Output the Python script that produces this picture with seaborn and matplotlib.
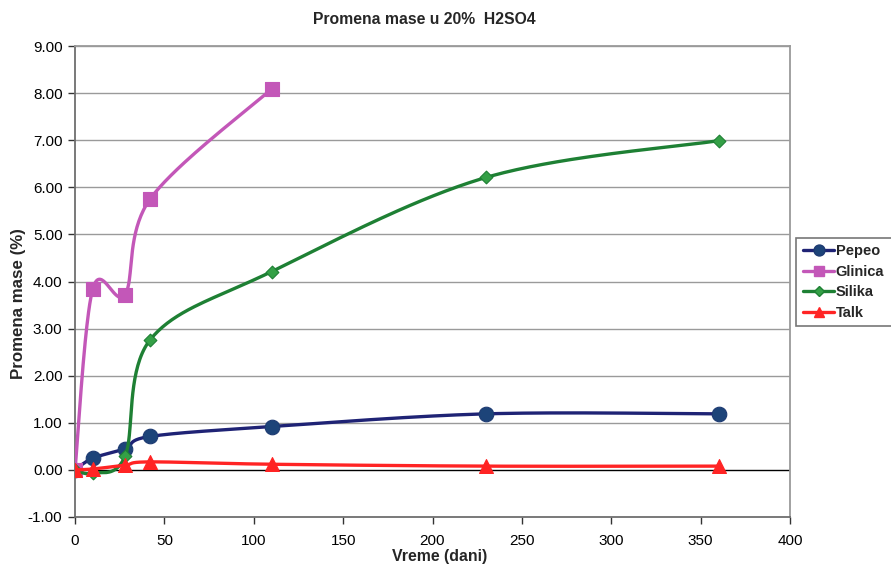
import numpy as np
import pandas as pd
import matplotlib
matplotlib.use("Agg")
import matplotlib.pyplot as plt
from matplotlib.lines import Line2D
from matplotlib.patches import Rectangle
import seaborn as sns

# Mass change in 20% H2SO4 over time
days_full = [0, 10, 28, 42, 110, 230, 360]
days_glinica = [0, 10, 28, 42, 110]
pepeo = [0.00, 0.25, 0.45, 0.71, 0.92, 1.19, 1.19]
glinica = [0.00, 3.85, 3.72, 5.75, 8.09]
silika = [0.00, -0.07, 0.29, 2.76, 4.21, 6.21, 6.99]
talk = [0.00, 0.02, 0.10, 0.17, 0.12, 0.08, 0.08]

series_names = ["Pepeo", "Glinica", "Silika", "Talk"]
x_ticks = [0, 50, 100, 150, 200, 250, 300, 350, 400]
y_ticks = [-1, 0, 1, 2, 3, 4, 5, 6, 7, 8, 9]

sns.set_theme(style="white")
plt.rcParams["font.family"] = ["Liberation Sans", "DejaVu Sans"]

W, H = 891, 567
fig = plt.figure(figsize=(W / 100, H / 100), dpi=100)
ax = fig.add_axes([75 / W, 1 - 517 / H, (790 - 75) / W, (517 - 46) / H])
ax.set_xlim(0, 400)
ax.set_ylim(-1, 9)

styles = {
    "Pepeo": dict(line="#1f2375", face="#1d4479", edge="#1d3a72", marker="o", ms=10.5),
    "Glinica": dict(line="#c357b8", face="#c357b8", edge="#c357b8", marker="s", ms=9.5),
    "Silika": dict(line="#1e8034", face="#34a046", edge="#1e8034", marker="D", ms=6.5),
    "Talk": dict(line="#ff2424", face="#ff2424", edge="#ff2424", marker="^", ms=10),
}

frames = []
for name, xs, ys in [("Pepeo", days_full, pepeo), ("Glinica", days_glinica, glinica),
                     ("Silika", days_full, silika), ("Talk", days_full, talk)]:
    frames.append(pd.DataFrame({"dani": xs, "masa": ys, "serija": name}))
df = pd.concat(frames, ignore_index=True)

# horizontal grid, zero line in black
for yv in y_ticks[1:]:
    if yv == 0:
        continue
    ax.axhline(yv, color="#9a9a9a", lw=1.0, zorder=0)
ax.axhline(0, color="black", lw=1.0, zorder=0.5)


def smooth_curve(axis, xs, ys, n=40):
    """Bezier smoothing computed in display space (cardinal spline)."""
    pts = axis.transData.transform(np.column_stack([xs, ys]))
    P = np.vstack([pts[0], pts, pts[-1]])
    t = np.linspace(0, 1, n)[:, None]
    segs = []
    for i in range(1, len(P) - 2):
        p0, p1, p2, p3 = P[i - 1], P[i], P[i + 1], P[i + 2]
        c1 = p1 + (p2 - p0) / 6.0
        c2 = p2 - (p3 - p1) / 6.0
        b = (1 - t) ** 3 * p1 + 3 * (1 - t) ** 2 * t * c1 + 3 * (1 - t) * t ** 2 * c2 + t ** 3 * p2
        segs.append(b)
    pix = np.vstack(segs)
    return axis.transData.inverted().transform(pix)


for k, name in enumerate(series_names):
    sub = df[df["serija"] == name]
    st = styles[name]
    curve = smooth_curve(ax, sub["dani"].values, sub["masa"].values)
    ax.plot(curve[:, 0], curve[:, 1], color=st["line"], lw=2.4, zorder=2 + k,
            solid_capstyle="round")
    sns.scatterplot(data=sub, x="dani", y="masa", ax=ax, marker=st["marker"],
                    s=st["ms"] ** 2, color=st["face"], edgecolor=st["edge"],
                    linewidth=0.8, zorder=2.5 + k, legend=False)

ax.set_xticks(x_ticks)
ax.set_yticks(y_ticks)
ax.set_yticklabels([f"{v:.2f}" for v in y_ticks])
ax.set_xticklabels([str(v) for v in x_ticks])
ax.tick_params(axis="both", labelsize=11, colors="#333333", labelcolor="black",
               direction="out", length=5, width=1)
ax.tick_params(axis="x", pad=7, bottom=True)
ax.tick_params(axis="y", pad=4, left=True)
ax.set_xlabel("")
ax.set_ylabel("")

for side in ["left", "bottom"]:
    ax.spines[side].set_color("#6e6e6e")
    ax.spines[side].set_linewidth(1.3)
for side in ["top", "right"]:
    ax.spines[side].set_color("#9a9a9a")
    ax.spines[side].set_linewidth(1.3)

fig.text(424 / W, 1 - 19 / H, "Promena mase u 20%  H2SO4", ha="center", va="center",
         fontsize=11.3, fontweight="bold")
fig.text(440 / W, 1 - 556 / H, "Vreme (dani)", ha="center", va="center",
         fontsize=11.4, fontweight="bold")
fig.text(18.5 / W, 1 - 304 / H, "Promena mase (%)", ha="center", va="center",
         rotation=90, fontsize=12.2, fontweight="bold")

# legend box, running past the right edge of the figure
fig.patches.append(Rectangle((796 / W, 1 - 326 / H), 110 / W, 88 / H,
                             transform=fig.transFigure, facecolor="white",
                             edgecolor="#777777", lw=1.2, zorder=5))
handles = []
for name in series_names:
    st = styles[name]
    handles.append(Line2D([0], [0], color=st["line"], lw=2.4, marker=st["marker"],
                          markersize=st["ms"] * 0.75, markerfacecolor=st["face"],
                          markeredgecolor=st["edge"]))
leg = fig.legend(handles, series_names, loc="upper left",
                 bbox_to_anchor=(799 / W, 1 - 240 / H), frameon=False,
                 borderpad=0.3, labelspacing=0.45, handlelength=2.1,
                 handletextpad=0.12, borderaxespad=0,
                 prop={"weight": "bold", "size": 10.5})
leg.set_zorder(6)

fig.savefig("out.png", dpi=100)
